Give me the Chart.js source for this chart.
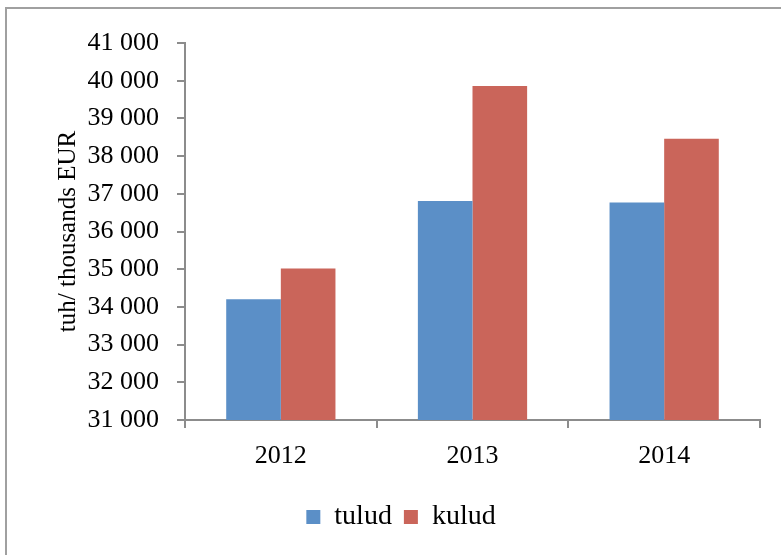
<!DOCTYPE html>
<html>
<head>
<meta charset="utf-8">
<script src="https://cdn.jsdelivr.net/npm/chart.js@4"></script>
<style>
    body { margin: 0; background: #fff; overflow: hidden; }
    #frame { position: absolute; left: 5px; top: 7px; width: 900px; height: 700px; border: 2px solid #a0a0a0; }
    #wrap { position: absolute; left: 0; top: 0; width: 781px; height: 555px; }
</style>
</head>
<body>
<div id="frame"></div>
<div id="wrap"><canvas id="chart"></canvas></div>
<script>
const years = ["2012", "2013", "2014"];
const tulud = [34200, 36810, 36770];
const kulud = [35020, 39860, 38460];
const yMin = 31000;
const yMax = 41000;

const serif = "'Liberation Serif', 'DejaVu Serif', serif";
const axisGrey = "#8c8c8c";

function spaced(v) {
    return String(v).replace(/\B(?=(\d{3})+(?!\d))/g, " ");
}

const ctx = document.getElementById("chart").getContext("2d");

new Chart(ctx, {
    type: "bar",
    data: {
        labels: years,
        datasets: [
            { label: "tulud", data: tulud, backgroundColor: "#5b8fc7" },
            { label: "kulud", data: kulud, backgroundColor: "#ca655a" }
        ]
    },
    options: {
        responsive: true,
        maintainAspectRatio: false,
        animation: false,
        categoryPercentage: 0.57,
        barPercentage: 1.0,
        layout: { padding: { top: 43, right: 21, left: 42, bottom: 14 } },
        scales: {
            x: {
                grid: { drawOnChartArea: false, color: axisGrey, lineWidth: 2, tickLength: 8, offset: true },
                border: { color: axisGrey, width: 2 },
                ticks: { color: "#000", font: { family: serif, size: 26 }, padding: 13 },
                afterFit: s => { s.height = 71; }
            },
            y: {
                min: yMin,
                max: yMax,
                ticks: {
                    stepSize: 1000,
                    color: "#000",
                    font: { family: serif, size: 26 },
                    padding: 18,
                    callback: v => spaced(v)
                },
                grid: { drawOnChartArea: false, color: axisGrey, lineWidth: 2, tickLength: 8 },
                border: { color: axisGrey, width: 2 },
                title: {
                    display: true,
                    text: "tuh/ thousands EUR",
                    color: "#000",
                    font: { family: serif, size: 25 },
                    padding: { top: 11, bottom: 0 }
                },
                afterFit: s => { s.width = 143; }
            }
        },
        plugins: {
            legend: {
                position: "bottom",
                labels: {
                    color: "#000",
                    font: { family: serif, size: 28 },
                    boxWidth: 14,
                    boxHeight: 14,
                    padding: 12
                }
            },
            tooltip: { enabled: false }
        }
    }
});
</script>
</body>
</html>
